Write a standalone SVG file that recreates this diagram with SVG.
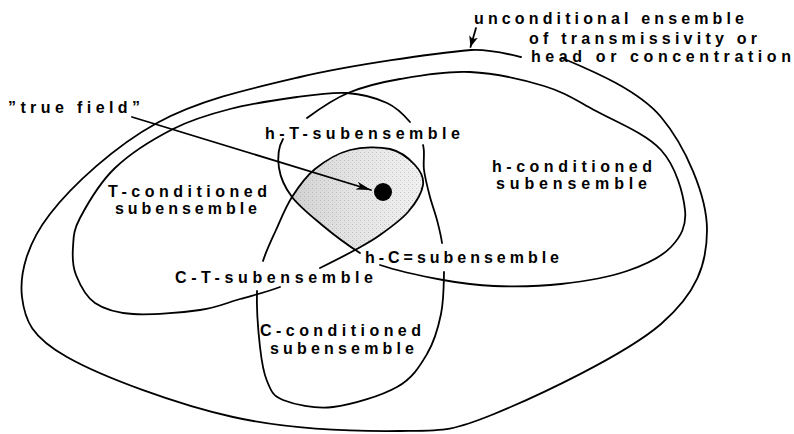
<svg xmlns="http://www.w3.org/2000/svg" width="794" height="434" viewBox="0 0 794 434">
<style>
.ln{fill:none;stroke:#000;stroke-width:1.8;stroke-linecap:round;stroke-linejoin:round}
.lbl{font-family:"Liberation Sans",Arial,Helvetica,sans-serif;font-weight:bold;font-size:16px;fill:#000}
</style>
<defs>
<marker id="ah" markerUnits="userSpaceOnUse" markerWidth="16" markerHeight="10" refX="15" refY="5" orient="auto">
<path d="M0,1 L15,5 L0,9 L4,5 Z" fill="#000"/>
</marker>
<marker id="ah2" markerUnits="userSpaceOnUse" markerWidth="12" markerHeight="10" refX="11" refY="5" orient="auto">
<path d="M0,0.5 L11,5 L0,9.5 L3,5 Z" fill="#000"/>
</marker>
<linearGradient id="shade" x1="290" y1="0" x2="425" y2="0" gradientUnits="userSpaceOnUse">
<stop offset="0" stop-color="#d2d2d2"/>
<stop offset="0.45" stop-color="#e4e4e4"/>
<stop offset="1" stop-color="#f2f2f2"/>
</linearGradient>
<pattern id="stip" width="4" height="4" patternUnits="userSpaceOnUse">
<rect x="0" y="0" width="1" height="1" fill="#9a9a9a"/>
<rect x="2" y="2" width="1" height="1" fill="#b5b5b5"/>
</pattern>
</defs>
<rect width="794" height="434" fill="#fff"/>

<g id="true-field-region">
<path d="M 292 197 C 298.5 186.8 305.3 176.8 315 169 C 324.7 161.2 337.5 153.3 350 150 C 362.5 146.7 379.2 146.5 390 149 C 400.8 151.5 409.5 159 415 165 C 420.5 171 424.2 177.2 423 185 C 421.8 192.8 415.2 203.7 408 212 C 400.8 220.3 388.8 228.7 380 235 C 371.2 241.3 365 244.5 355 250 C 345.3 243.3 332.5 233.8 322 225 C 311.5 216.2 299.2 206.5 292 197 Z" fill="url(#shade)"/>
<path d="M 292 197 C 298.5 186.8 305.3 176.8 315 169 C 324.7 161.2 337.5 153.3 350 150 C 362.5 146.7 379.2 146.5 390 149 C 400.8 151.5 409.5 159 415 165 C 420.5 171 424.2 177.2 423 185 C 421.8 192.8 415.2 203.7 408 212 C 400.8 220.3 388.8 228.7 380 235 C 371.2 241.3 365 244.5 355 250 C 345.3 243.3 332.5 233.8 322 225 C 311.5 216.2 299.2 206.5 292 197 Z" fill="url(#stip)" opacity="0.5"/>
<circle cx="383" cy="192" r="9" fill="#000"/>
</g>

<g id="unconditional-ensemble">
<path class="ln" d="M 562 58 C 585.3 68 636.8 88.3 661 117 C 685.2 145.7 707 195.5 707 230 C 707 264.5 696.5 293.3 661 324 C 625.5 354.7 537.5 396.2 494 414 C 450.5 431.8 443.5 430.5 400 431 C 356.5 431.5 288.5 429.3 233 417 C 177.5 404.7 102.2 377 67 357 C 31.8 337 24.8 320.8 22 297 C 19.2 273.2 27.5 243 50 214 C 72.5 185 115.3 145.8 157 123 C 198.7 100.2 247.7 89.2 300 77 C 352.3 64.8 434.2 53.3 471 50 C 490 49 508 54 521 57"/>
<text class="lbl" x="474" y="24" textLength="270" lengthAdjust="spacing">unconditional ensemble</text>
<text class="lbl" x="529" y="44" textLength="228" lengthAdjust="spacing">of transmissivity or</text>
<text class="lbl" x="531" y="62" textLength="260" lengthAdjust="spacing">head or concentration</text>
</g>

<g id="h-conditioned-subensemble">
<path class="ln" d="M 307 118 C 317.2 110.5 332.5 99.5 348 93 C 363.5 86.5 379.7 82.5 400 79 C 420.3 75.5 446 70.8 470 72 C 494 73.2 523.3 79.7 544 86 C 564.7 92.3 574.5 99.3 594 110 C 613.5 120.7 645.8 133.3 661 150 C 676.2 166.7 683.3 193.8 685 210 C 686.7 226.2 680.7 236.8 671 247 C 661.3 257.2 645.3 264.8 627 271 C 608.7 277.2 583.2 281.5 561 284 C 538.8 286.5 513.7 286.7 494 286 C 474.3 285.3 462 283.5 443 280 C 424 276.5 394.7 270 380 265"/>
<path class="ln" d="M 360 253 C 349 246 332.5 233.8 322 225 C 311.5 216.2 299.2 206.5 292 197 C 284.8 187.5 280.5 177.7 279 168 C 277.5 158.3 278.3 147.3 283 139"/>
<text class="lbl" x="492" y="172" textLength="160" lengthAdjust="spacing">h-conditioned</text>
<text class="lbl" x="496" y="189" textLength="151" lengthAdjust="spacing">subensemble</text>
</g>

<g id="T-conditioned-subensemble">
<path class="ln" d="M 280 287 C 266.7 292.2 253.3 295.2 240 299 C 226.7 302.8 217.8 307.5 200 310 C 182.2 312.5 150.5 315.2 133 314 C 115.5 312.8 104.5 309.5 95 303 C 85.5 296.5 79.7 284.3 76 275 C 72.3 265.7 72.3 256.5 73 247 C 73.7 237.5 73 231.2 80 218 C 87 204.8 99.5 182.8 115 168 C 130.5 153.2 153.8 138.8 173 129 C 192.2 119.2 209.3 114.3 230 109 C 250.7 103.7 277.5 99.7 297 97 C 316.5 94.3 332 92 347 93 C 362 94 376.5 98.2 387 103 C 397.5 107.8 404 115 410 122"/>
<path class="ln" d="M 263 261 C 266.2 250.8 271.2 240.7 276 230 C 280.8 219.3 285.5 207.2 292 197 C 298.5 186.8 305.3 176.8 315 169 C 324.7 161.2 337.5 153.3 350 150 C 362.5 146.7 379.2 146.5 390 149 C 400.8 151.5 409.5 159 415 165 C 420.5 171 424.2 177.2 423 185 C 421.8 192.8 415.2 203.7 408 212 C 400.8 220.3 388.8 228.7 380 235 C 371.2 241.3 365 244.5 355 250 C 345 255.5 332.5 261.8 320 268"/>
<text class="lbl" x="108" y="197" textLength="159" lengthAdjust="spacing">T-conditioned</text>
<text class="lbl" x="115" y="214" textLength="142" lengthAdjust="spacing">subensemble</text>
</g>

<g id="C-conditioned-subensemble">
<path class="ln" d="M 423 145 C 425.3 153 422.8 161.3 424 170 C 425.2 178.7 427.8 188.7 430 197 C 432.2 205.3 435 212.3 437 220 C 439 227.7 440.8 234.3 442 243"/>
<path class="ln" d="M 444 272 C 443.8 283.8 443.8 300.3 441 314 C 438.2 327.7 434.3 341.8 427 354 C 419.7 366.2 412.7 378.2 397 387 C 381.3 395.8 352 404.8 333 407 C 314 409.2 294 404.3 283 400 C 272 395.7 270.8 389.8 267 381 C 263.2 372.2 261.7 362 260 347 C 258.3 332 256.5 305.3 257 291"/>
<text class="lbl" x="260" y="336" textLength="161" lengthAdjust="spacing">C-conditioned</text>
<text class="lbl" x="270" y="354" textLength="144" lengthAdjust="spacing">subensemble</text>
</g>

<g id="h-T-subensemble">
<text class="lbl" x="265" y="139" textLength="195" lengthAdjust="spacing">h-T-subensemble</text>
</g>
<g id="h-C-subensemble">
<text class="lbl" x="365" y="263" textLength="194" lengthAdjust="spacing">h-C=subensemble</text>
</g>
<g id="C-T-subensemble">
<text class="lbl" x="175" y="283" textLength="198" lengthAdjust="spacing">C-T-subensemble</text>
</g>
<g id="true-field">
<text class="lbl" x="8" y="113" textLength="132" lengthAdjust="spacing">”true field”</text>
</g>

<g id="connectors">
<line class="ln" x1="132" y1="117" x2="371" y2="190" marker-end="url(#ah)"/>
<line class="ln" x1="476" y1="28" x2="470.5" y2="47" marker-end="url(#ah2)"/>
</g>
</svg>
